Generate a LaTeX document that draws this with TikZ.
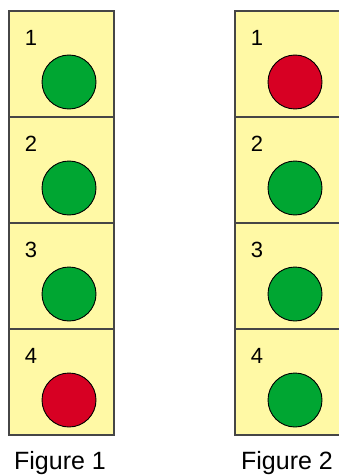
\documentclass[tikz,border=0pt]{standalone}
\usepackage{fontspec}
\setmainfont{Liberation Sans}
\usetikzlibrary{positioning,calc}
\definecolor{cellyellow}{RGB}{255,249,165}
\definecolor{edgegray}{RGB}{70,70,70}
\definecolor{lampgreen}{RGB}{0,166,50}
\definecolor{lampred}{RGB}{215,0,35}
\tikzset{
  cellbox/.style={draw=edgegray, line width=1.2pt, fill=cellyellow,
    minimum width=105pt, minimum height=106pt, outer sep=0pt, inner sep=0pt},
  greenlamp/.style={circle, draw=black, line width=0.9pt, fill=lampgreen,
    minimum size=54pt, inner sep=0pt},
  redlamp/.style={circle, draw=black, line width=0.9pt, fill=lampred,
    minimum size=54pt, inner sep=0pt},
  cellnum/.style={font=\fontsize{22}{24}\selectfont, inner sep=0pt},
  figcaption/.style={font=\fontsize{25}{28}\selectfont, inner sep=0pt}
}

\begin{document}
\begin{tikzpicture}[x=1pt, y=-1pt, node distance=0pt]
\fill[white] (0,0) rectangle (339,476);
\clip (0,0) rectangle (339,476);

% Figure 1
\node[cellbox, anchor=north west] (a1) at (9,11) {};
\node[cellbox, below=of a1] (a2) {};
\node[cellbox, below=of a2] (a3) {};
\node[cellbox, below=of a3] (a4) {};

\node[greenlamp] (la1) at ($(a1.center)+(7.5,18)$) {};
\node[greenlamp] (la2) at ($(a2.center)+(7.5,18)$) {};
\node[greenlamp] (la3) at ($(a3.center)+(7.5,18)$) {};
\node[redlamp] (la4) at ($(a4.center)+(7.5,18)$) {};

\node[cellnum] (na1) at ($(a1.north west)+(22,27)$) {1};
\node[cellnum] (na2) at ($(a2.north west)+(22,27)$) {2};
\node[cellnum] (na3) at ($(a3.north west)+(22,27)$) {3};
\node[cellnum] (na4) at ($(a4.north west)+(22,27)$) {4};

\node[figcaption] (capa) at (60,463) {Figure 1};

% Figure 2
\node[cellbox, anchor=north west] (b1) at (235,11) {};
\node[cellbox, below=of b1] (b2) {};
\node[cellbox, below=of b2] (b3) {};
\node[cellbox, below=of b3] (b4) {};

\node[redlamp] (lb1) at ($(b1.center)+(7.5,18)$) {};
\node[greenlamp] (lb2) at ($(b2.center)+(7.5,18)$) {};
\node[greenlamp] (lb3) at ($(b3.center)+(7.5,18)$) {};
\node[greenlamp] (lb4) at ($(b4.center)+(7.5,18)$) {};

\node[cellnum] (nb1) at ($(b1.north west)+(22,27)$) {1};
\node[cellnum] (nb2) at ($(b2.north west)+(22,27)$) {2};
\node[cellnum] (nb3) at ($(b3.north west)+(22,27)$) {3};
\node[cellnum] (nb4) at ($(b4.north west)+(22,27)$) {4};

\node[figcaption] (capb) at (287,463) {Figure 2};
\end{tikzpicture}
\end{document}
